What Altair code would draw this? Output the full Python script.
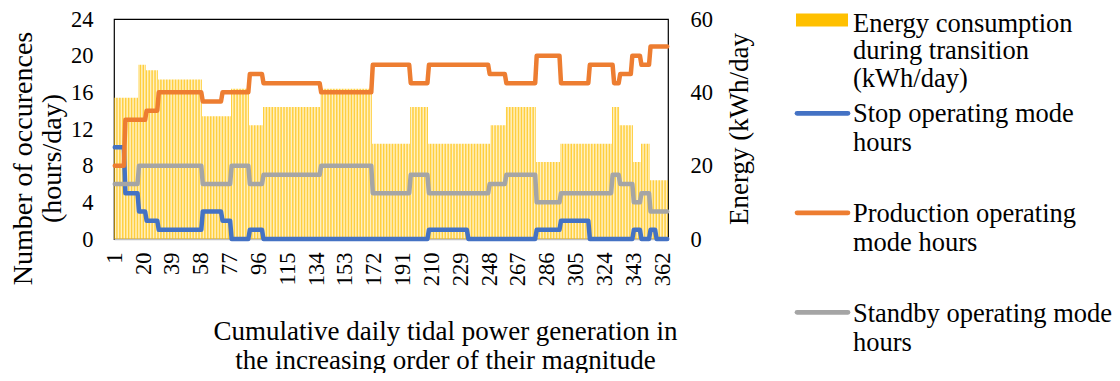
import altair as alt
import pandas as pd

FONT = "Liberation Serif"

# ---- data (value levels and number of consecutive days) ----
energy_levels = [38.5, 47.5, 46, 43.5, 33.5, 41, 31, 36, 41, 26, 36, 26, 31, 36, 21, 26, 36, 31, 21, 26, 16]
energy_runs = [16, 5, 8, 29, 19, 12, 9, 38, 34, 25, 12, 41, 10, 20, 16, 34, 5, 9, 5, 6, 12]

stop_levels = [10, 5, 3, 2, 1, 3, 2, 0, 1, 0, 1, 0, 1, 2, 0, 1, 0, 1, 0]
stop_runs = [7, 9, 5, 8, 29, 13, 6, 12, 9, 109, 26, 45, 16, 19, 29, 5, 6, 4, 8]

production_levels = [8, 13, 14, 16, 15, 16, 18, 17, 16, 19, 17, 19, 18, 17, 20, 17, 19, 17, 18, 20, 19, 21]
production_runs = [7, 14, 8, 29, 13, 18, 9, 38, 34, 25, 12, 40, 11, 20, 16, 19, 16, 4, 8, 6, 6, 12]

standby_levels = [6, 8, 6, 8, 6, 7, 8, 5, 7, 5, 6, 7, 4, 5, 7, 6, 4, 5, 3]
standby_runs = [16, 42, 19, 12, 9, 38, 34, 25, 12, 40, 11, 20, 16, 34, 5, 9, 5, 6, 12]

x_tick_labels = [1, 20, 39, 58, 77, 96, 115, 134, 153, 172, 191, 210, 229, 248, 267, 286, 305, 324, 343, 362]
left_ticks = [0, 4, 8, 12, 16, 20, 24]
right_ticks = [0, 20, 40, 60]

series_names = ["Stop operating mode hours", "Production operating mode hours", "Standby operating mode hours"]
series_colors = ["#4472C4", "#ED7D31", "#A5A5A5"]
bar_color = "#FFC000"


def expand(levels, runs):
    out = []
    for v, n in zip(levels, runs):
        out.extend([v] * n)
    return out


energy = expand(energy_levels, energy_runs)
stop = expand(stop_levels, stop_runs)
production = expand(production_levels, production_runs)
standby = expand(standby_levels, standby_runs)
days = list(range(1, len(energy) + 1))

df = pd.DataFrame({
    "day": days,
    "energy": energy,
    series_names[0]: stop,
    series_names[1]: production,
    series_names[2]: standby,
})

x_enc = alt.X(
    "day:O",
    scale=alt.Scale(paddingInner=0.5, paddingOuter=0.25),
    axis=alt.Axis(
        values=x_tick_labels, labelAngle=270, labelFont=FONT, labelFontSize=22.5,
        labelColor="black", labelPadding=13, ticks=False, tickSize=0,
        labelOverlap=False, domainColor="#BFBFBF", domainWidth=1.5,
        title=["Cumulative daily tidal power generation in",
               "the increasing order of their magnitude"],
        titleFont=FONT, titleFontSize=27, titleFontWeight="normal", titleColor="black",
        titleX=331, titleY=100, titleAlign="center", titleBaseline="alphabetic",
        titleLineHeight=29, grid=False,
    ),
)

bars = alt.Chart(df).mark_bar(color=bar_color).encode(
    x=x_enc,
    y=alt.Y(
        "energy:Q",
        scale=alt.Scale(domain=[0, 60], nice=False),
        axis=alt.Axis(
            orient="right", values=right_ticks, grid=False, domain=False, ticks=False,
            tickSize=0, labelPadding=22, labelFont=FONT, labelFontSize=22.5, labelColor="black",
            title="Energy (kWh/day", titleFont=FONT, titleFontSize=27, titleFontWeight="normal",
            titleColor="black", titleAngle=270, titleX=79, titleY=109.5,
            titleAlign="center", titleBaseline="alphabetic",
        ),
    ),
)

lines = alt.Chart(df).transform_fold(series_names, as_=["series", "hours"]).mark_line(
    strokeWidth=4.5, strokeJoin="round", strokeCap="round"
).encode(
    x=x_enc,
    y=alt.Y(
        "hours:Q",
        scale=alt.Scale(domain=[0, 24], nice=False),
        axis=alt.Axis(
            orient="left", values=left_ticks, grid=False, domain=False, ticks=False,
            tickSize=0, labelPadding=21, labelFont=FONT, labelFontSize=22.5, labelColor="black",
            title=["Number of occurences", "(hours/day)"], titleFont=FONT, titleFontSize=28,
            titleFontWeight="normal", titleColor="black", titleAngle=270,
            titleX=-83, titleY=139, titleAlign="center", titleBaseline="alphabetic",
            titleLineHeight=29,
        ),
    ),
    color=alt.Color("series:N", scale=alt.Scale(domain=series_names, range=series_colors), legend=None),
)

# ---- manual legend (Excel-style, to the right of the plot) ----
one = pd.DataFrame({"k": [0]})
legend_texts = [
    "Energy consumption\nduring transition\n(kWh/day)",
    "Stop operating mode\nhours",
    "Production operating\nmode hours",
    "Standby operating mode\nhours",
]
legend_baselines = [12.6, 102.7, 202.7, 302.7]
legend_line_heights = [27.5, 29.5, 29.5, 29.5]
legend_layers = []
legend_layers.append(
    alt.Chart(one).mark_rect(color=bar_color).encode(
        x=alt.value(682), x2=alt.value(734), y=alt.value(-5.5), y2=alt.value(7.5)
    )
)
for i, col in enumerate(series_colors):
    yy = 94.3 + 99.5 * i
    legend_layers.append(
        alt.Chart(one).mark_rule(color=col, strokeWidth=4.7, strokeCap="round").encode(
            x=alt.value(683), x2=alt.value(734), y=alt.value(yy)
        )
    )
for t, yb, lh in zip(legend_texts, legend_baselines, legend_line_heights):
    legend_layers.append(
        alt.Chart(pd.DataFrame({"t": [t]})).mark_text(
            font=FONT, fontSize=26.5, align="left", baseline="alphabetic",
            lineBreak="\n", lineHeight=lh, color="black"
        ).encode(text="t:N", x=alt.value(739), y=alt.value(yb))
    )

chart = alt.layer(bars, lines, *legend_layers).resolve_scale(y="independent").properties(
    width=554, height=220,
    autosize=alt.AutoSizeParams(type="none"),
    padding={"left": 106, "top": 11, "right": 444, "bottom": 134},
).configure_view(stroke="black", strokeWidth=1.2)

chart.save("out.html", embed_options={"renderer": "svg", "actions": False})
